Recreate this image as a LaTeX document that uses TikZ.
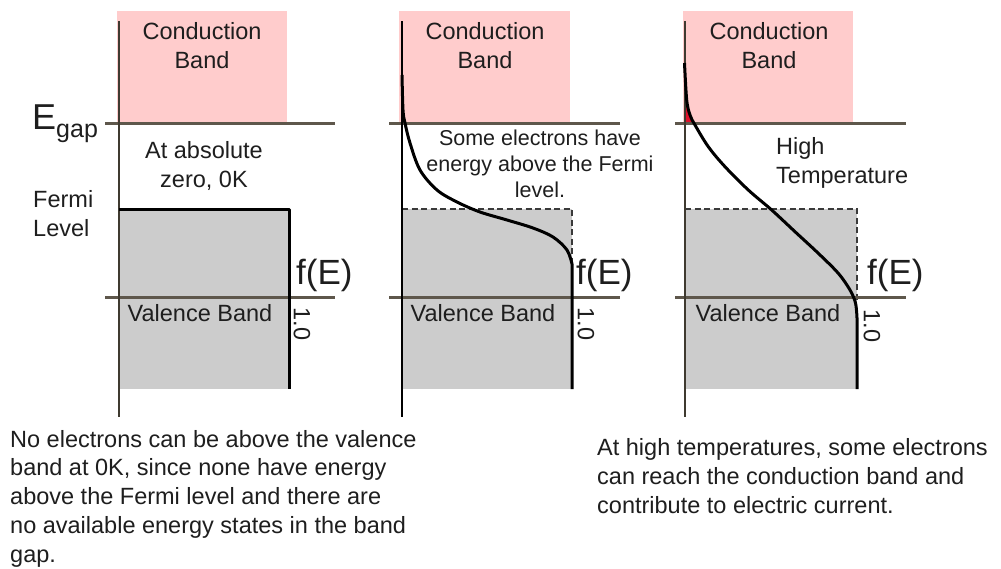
\documentclass[tikz,border=0pt]{standalone}
\usepackage{fontspec}
\setmainfont{Liberation Sans}
\definecolor{cband}{HTML}{FFCCCC}
\definecolor{vband}{HTML}{CCCCCC}
\definecolor{levelline}{HTML}{5E574B}
\definecolor{axisc}{HTML}{3F3A30}
\definecolor{hot}{HTML}{E0102A}
\definecolor{txt}{HTML}{1E1E1E}
\definecolor{dashc}{HTML}{3A3A3A}
\begin{document}
\begin{tikzpicture}[x=1pt,y=-1pt,
  every node/.style={inner sep=0pt, text=txt},
  lbl/.style={font=\fontsize{23.5}{28.7}\selectfont},
  small/.style={font=\fontsize{21.5}{26}\selectfont},
  big/.style={font=\fontsize{35}{35}\selectfont},
  level/.style={levelline, line width=3pt},
  axis/.style={axisc, line width=2pt},
  occupied/.style={dashc, line width=1.5pt, dash pattern=on 6pt off 3.5pt},
  fermi/.style={black, line width=3pt, line join=round}]
\useasboundingbox (0,0) rectangle (1001,568);

% ---------- panel 1: T = 0 ----------
\fill[cband] (117,11) rectangle (287,123);
\fill[vband] (119,209) rectangle (288,389);
\draw[level] (105,123) -- (335,123);
\draw[level] (105,297) -- (335,297);
\draw[axis] (119,21) -- (119,417);
\draw[fermi] (119,209) -- (289,209) -- (289,389);

% ---------- panel 2: moderate temperature ----------
\fill[cband] (399,11) rectangle (570,123);
\fill[vband] (402,209) rectangle (572,389);
\draw[occupied] (402,209) -- (572,209) -- (572,262);
\draw[level] (389,123) -- (620,123);
\draw[level] (389,297) -- (620,297);
\draw[black, line width=2pt] (402,21) -- (402,417);
\draw[fermi] plot[smooth, tension=0.55] coordinates {(402,75) (403,110) (405,123) (410,143) (420,170) (437,190) (457,202) (480,212) (507,220) (533,228) (553,237) (567,250) (572,264)} -- (572,389);

% ---------- panel 3: high temperature ----------
\fill[cband] (683,11) rectangle (853,123);
\fill[vband] (685,209) rectangle (857,389);
\fill[hot] (685,98) -- (687,100) -- (690,115) -- (694,123) -- (685,123) -- cycle;
\draw[occupied] (685,209) -- (857,209) -- (857,300);
\draw[level] (675,123) -- (906,123);
\draw[level] (675,297) -- (906,297);
\draw[axis] (685,21) -- (685,417);
\draw[fermi] plot[smooth, tension=0.55] coordinates {(684.5,63) (686.7,100) (690,115) (695,125) (708.3,146.7) (725,166.7) (748.3,190) (771.7,210) (795,231.7) (818.3,253.3) (838.3,273.3) (850,290) (855.5,303) (857,318)} -- (857,389);

% ---------- labels (multi-line nodes sit on their last baseline) ----------
\node[lbl, align=center, anchor=base] (cb1) at (202,68) {Conduction\\Band};
\node[lbl, align=center, anchor=base] (cb2) at (485,68) {Conduction\\Band};
\node[lbl, align=center, anchor=base] (cb3) at (769,68) {Conduction\\Band};

\node[anchor=base west, font=\fontsize{36}{36}\selectfont] (egap) at (32,129)
  {E\raisebox{-8pt}{\fontsize{25}{25}\selectfont gap}};
\node[lbl, align=left, anchor=base west] (fermilbl) at (33,236) {Fermi\\Level};

\node[lbl, align=center, anchor=base] (zero) at (204,187) {At absolute\\zero, 0K};
\node[small, align=center, anchor=base] (some) at (540,197) {Some electrons have\\energy above the Fermi\\level.};
\node[lbl, align=left, anchor=base west] (high) at (776,183) {High\\Temperature};

\node[big, anchor=base west] (fe1) at (296,284) {f(E)};
\node[big, anchor=base west] (fe2) at (576,284) {f(E)};
\node[big, anchor=base west] (fe3) at (867,284) {f(E)};

\node[lbl, rotate=-90] (one1) at (302,324) {1.0};
\node[lbl, rotate=-90] (one2) at (586,324) {1.0};
\node[lbl, rotate=-90] (one3) at (872,326) {1.0};

\node[lbl, anchor=base] (vb1) at (200,321) {Valence Band};
\node[lbl, anchor=base] (vb2) at (483,321) {Valence Band};
\node[lbl, anchor=base] (vb3) at (768,321) {Valence Band};

% ---------- captions ----------
\node[lbl, align=left, anchor=base west] (note1) at (10,562)
  {No electrons can be above the valence\\band at 0K, since none have energy\\above the Fermi level and there are\\no available energy states in the band\\gap.};
\node[lbl, align=left, anchor=base west] (note2) at (597,513)
  {At high temperatures, some electrons\\can reach the conduction band and\\contribute to electric current.};
\end{tikzpicture}
\end{document}
